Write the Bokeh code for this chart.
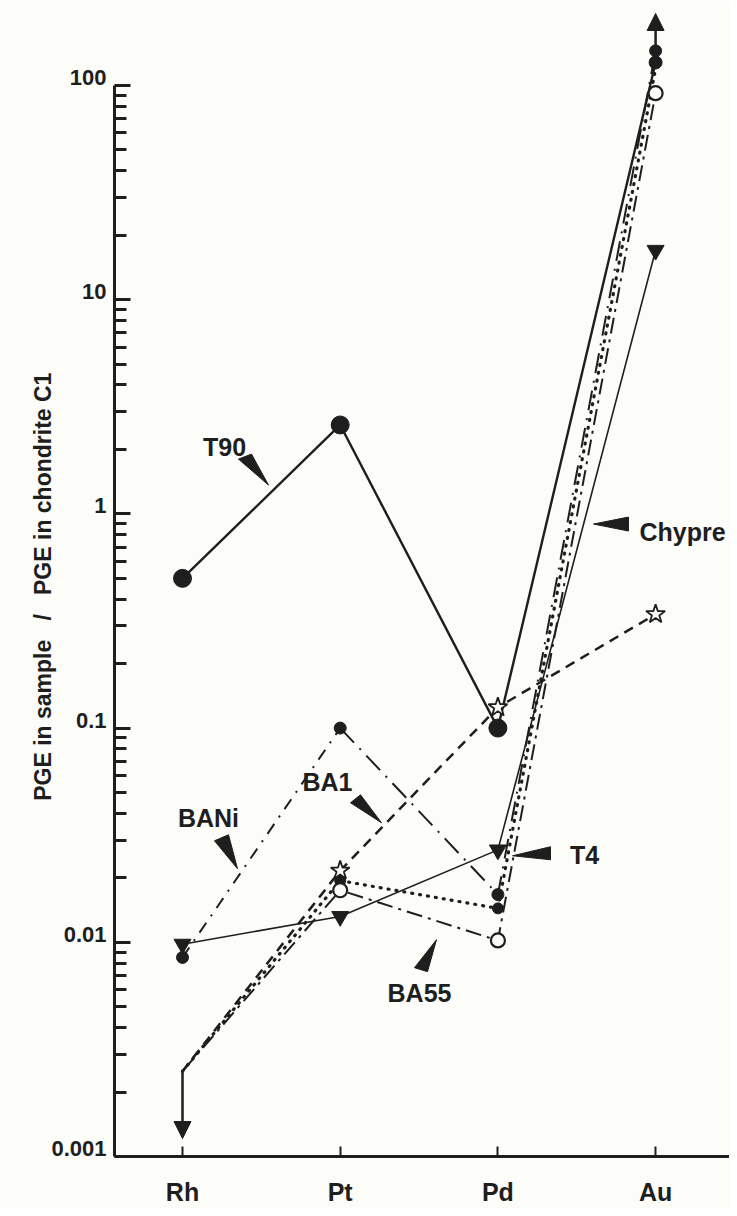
import math
from bokeh.plotting import figure
from bokeh.models import (Range1d, FixedTicker, Label, Arrow, NormalHead,
                          LogAxis, LogScale)
from bokeh.embed import file_html
from bokeh.resources import INLINE

# ---------------- data ----------------
elements = ["Rh", "Pt", "Pd", "Au"]
xpos = [0, 1, 2, 3]

t90 = [0.50, 2.6, 0.10, 128]           # solid, big filled circles
bani = [0.0085, 0.10]                  # Rh -> Pt, dash-dot
ba1 = [0.10, 0.0167, 145]              # Pt -> Pd -> Au, long dash-dot
ba55 = [0.0025, 0.0175, 0.0102, 92]    # open circles, dash-dot
dotted = [0.0025, 0.0194, 0.0144, 120] # dotted, small filled circles
chypre = [0.0025, 0.0216, 0.125, 0.34] # dashed, open stars
t4 = [0.0098, 0.0132, 0.027, 17]       # thin solid, filled down-triangles

rh_limit = 0.0025
y_ticks = [0.001, 0.01, 0.1, 1, 10, 100]
y_tick_labels = ["0.001", "0.01", "0.1", "1", "10", "100"]

INK = "#1e1e1e"
BG = "#fcfcf8"
FONT = "Liberation Sans"
NB = "\u00a0"

# pixel -> data helpers for decorations (label pointers)
X0, XS = 182.0, 157.7
Y100, YD = 85.0, 214.4
def fx(px):
    return (px - X0) / XS
def fy(py):
    return 10 ** (2 - (py - Y100) / YD)

W, H = 729, 1208
Y_TOP = fy(10)
p = figure(width=W, height=H, y_axis_type="log",
           x_range=Range1d(fx(114), fx(W)),
           y_range=Range1d(0.001, Y_TOP),
           output_backend="svg", toolbar_location=None,
           min_border_left=114, min_border_right=0,
           min_border_top=10, min_border_bottom=H - 1157,
           background_fill_color=BG, border_fill_color=BG)
p.outline_line_color = None
p.xgrid.visible = False
p.ygrid.visible = False

# main y axis: line and ticks only
ya = p.yaxis[0]
ya.ticker = FixedTicker(ticks=y_ticks,
                        minor_ticks=[k * 10 ** e for e in range(-3, 2) for k in range(2, 10)])
ya.major_label_overrides = {t: "" for t in y_ticks}
ya.major_label_standoff = 0
ya.bounds = (0.001, 100)
ya.axis_line_width = 3
ya.axis_line_color = INK
ya.major_tick_line_width = 3
ya.minor_tick_line_width = 3
ya.major_tick_line_color = INK
ya.minor_tick_line_color = INK
ya.major_tick_in = 16
ya.major_tick_out = 0
ya.minor_tick_in = 12
ya.minor_tick_out = 0

# label axis: same scale shifted up a few pixels so that the numbers sit on their ticks
f = 10 ** (-8 / YD)
p.extra_y_ranges = {"lab": Range1d(0.001 * f, Y_TOP * f)}
p.extra_y_scales = {"lab": LogScale()}
la = LogAxis(y_range_name="lab", ticker=FixedTicker(ticks=y_ticks, minor_ticks=[]))
la.major_label_overrides = {t: l for t, l in zip(y_ticks, y_tick_labels)}
la.axis_line_color = None
la.major_tick_line_color = None
la.minor_tick_line_color = None
la.major_tick_in = 0
la.major_tick_out = 0
la.major_label_standoff = 8
la.major_label_text_font = FONT
la.major_label_text_font_style = "bold"
la.major_label_text_font_size = "22px"
la.major_label_text_color = INK
la.axis_label = ("PGE in sample" + NB * 3 + "/" + NB * 3 + "PGE in chondrite C1" + NB)
la.axis_label_text_font = FONT
la.axis_label_text_font_style = "bold"
la.axis_label_text_font_size = "23px"
la.axis_label_text_color = INK
la.axis_label_standoff = -8
p.add_layout(la, "left")

# x axis
xa = p.xaxis[0]
xa.ticker = FixedTicker(ticks=xpos)
xa.major_label_overrides = {i: e for i, e in zip(xpos, elements)}
xa.axis_line_width = 3
xa.axis_line_color = INK
xa.major_tick_line_width = 2
xa.major_tick_line_color = INK
xa.major_tick_in = 10
xa.major_tick_out = 0
xa.minor_tick_line_color = None
xa.major_label_standoff = 21
xa.major_label_text_font = FONT
xa.major_label_text_font_style = "bold"
xa.major_label_text_font_size = "25px"
xa.major_label_text_color = INK

# ---------------- series ----------------
p.line(xpos, chypre, line_color=INK, line_width=2.5, line_dash="10 7")
p.line(xpos, ba55, line_color=INK, line_width=2, line_dash="16 6 3 6")
p.line(xpos, dotted, line_color=INK, line_width=3.2, line_dash="1 7", line_cap="round")
p.line(xpos[:2], bani, line_color=INK, line_width=2, line_dash="12 8 2 8")
p.line(xpos[1:], ba1, line_color=INK, line_width=2, line_dash="20 8 2 8")
p.line(xpos, t4, line_color=INK, line_width=1.6)
p.line(xpos, t90, line_color=INK, line_width=2.4)

# markers
p.scatter(xpos[:3], t90[:3], marker="circle", size=18, fill_color=INK, line_color=INK)
p.scatter(xpos[3:], t90[3:], marker="circle", size=13, fill_color=INK, line_color=INK)
p.scatter(xpos[:1], bani[:1], marker="circle", size=12, fill_color=INK, line_color=INK)
p.scatter(xpos[1:], ba1, marker="circle", size=12, fill_color=INK, line_color=INK)
p.scatter(xpos[1:3], dotted[1:3], marker="circle", size=11, fill_color=INK, line_color=INK)
p.scatter(xpos[1:], ba55[1:], marker="circle", size=14, fill_color=BG, line_color=INK, line_width=2.2)
p.scatter(xpos[1:], chypre[1:], marker="star", size=20, fill_color=BG, line_color=INK, line_width=1.8)
p.scatter(xpos, t4, marker="inverted_triangle", size=17, fill_color=INK, line_color=INK)

# detection-limit arrow at Rh and off-scale arrow at Au
p.add_layout(Arrow(x_start=0, y_start=rh_limit, x_end=0, y_end=fy(1139),
                   line_width=2.5, line_color=INK,
                   end=NormalHead(size=17, fill_color=INK, line_color=INK)))
p.add_layout(Arrow(x_start=3, y_start=max(ba1[-1], t90[-1]), x_end=3, y_end=fy(13),
                   line_width=2.5, line_color=INK,
                   end=NormalHead(size=17, fill_color=INK, line_color=INK)))

# ---------------- labels with wedge pointers ----------------
labels = [
    ("T90", 224, 447, [(238, 459), (251, 454), (268, 485)]),
    ("BANi", 208, 818, [(214, 841), (228, 835), (237, 869)]),
    ("BA1", 327, 782, [(350, 803), (360, 795), (381, 823)]),
    ("BA55", 419, 993, [(414, 968), (427, 972), (436, 940)]),
    ("T4", 584, 855, [(550, 847), (550, 860), (512, 856)]),
    ("Chypre", 682, 532, [(628, 517), (628, 531), (593, 524)]),
]
for txt, lx, ly, tri in labels:
    p.add_layout(Label(x=fx(lx), y=fy(ly), text=txt, text_align="center",
                       text_baseline="middle", text_font=FONT,
                       text_font_style="bold", text_font_size="25px",
                       text_color=INK))
    p.patch([fx(a) for a, b in tri], [fy(b) for a, b in tri],
            fill_color=INK, line_color=INK, line_width=1)

open("out.html", "w").write(file_html(p, INLINE))
